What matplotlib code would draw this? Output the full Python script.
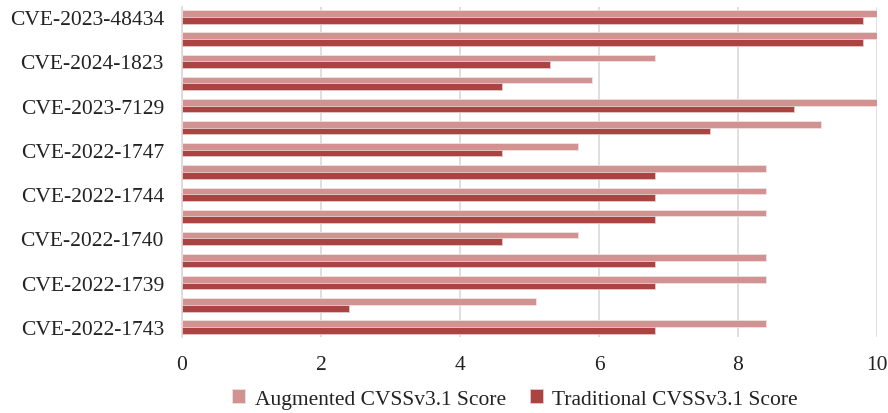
import numpy as np
import matplotlib.pyplot as plt

plt.rcParams['font.family'] = ['Liberation Serif', 'DejaVu Serif']

# Categories top to bottom (only every other one is labelled in the source)
cves = ["CVE-2023-48434", "", "CVE-2024-1823", "", "CVE-2023-7129", "",
        "CVE-2022-1747", "", "CVE-2022-1744", "", "CVE-2022-1740", "",
        "CVE-2022-1739", "", "CVE-2022-1743"]
augmented = [10, 10, 6.8, 5.9, 10, 9.2, 5.7, 8.4, 8.4, 8.4, 5.7, 8.4, 8.4, 5.1, 8.4]
traditional = [9.8, 9.8, 5.3, 4.6, 8.8, 7.6, 4.6, 6.8, 6.8, 6.8, 4.6, 6.8, 6.8, 2.4, 6.8]

aug_color = "#D09392"
trad_color = "#A94442"

fig = plt.figure(figsize=(8.88, 4.14), dpi=100)
ax = fig.add_axes([182 / 888, 76 / 414, 695 / 888, 330 / 414])

y = np.arange(len(cves))
h = 0.3
ax.barh(y - h / 2, augmented, height=h, color=aug_color, edgecolor="#F2E0E0",
        linewidth=0.6, label="Augmented CVSSv3.1 Score", zorder=3)
ax.barh(y + h / 2, traditional, height=h, color=trad_color, edgecolor="#E8C8C8",
        linewidth=0.6, label="Traditional CVSSv3.1 Score", zorder=3)

ax.set_xlim(0, 10)
ax.set_ylim(14.45, -0.45)
ax.set_xticks([0, 2, 4, 6, 8, 10])
ax.set_yticks(y[::2])
ax.set_yticklabels(cves[::2])
ax.tick_params(axis="both", length=0, labelsize=15.5, colors="#222222")
ax.tick_params(axis="x", pad=13)
ax.tick_params(axis="y", pad=13)

ax.grid(axis="x", color="#D9D9D9", linewidth=1.2, zorder=0)
for s in ["top", "right", "bottom"]:
    ax.spines[s].set_visible(False)
ax.spines["left"].set_color("#D9D9D9")
ax.spines["left"].set_linewidth(1.2)

fig.legend(loc="center", bbox_to_anchor=(515 / 888, 1 - 400 / 414), ncol=2,
           frameon=False, fontsize=15.5, handlelength=0.6, handleheight=0.6,
           handletextpad=0.45, columnspacing=1.1, labelcolor="#222222")

fig.savefig("out.png", dpi=100)
